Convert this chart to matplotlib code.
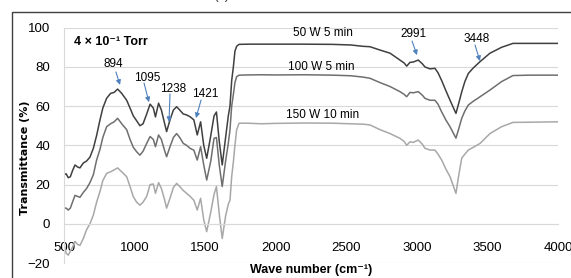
import matplotlib
matplotlib.use("Agg")
import matplotlib.pyplot as plt
from matplotlib.patches import Rectangle

plt.rcParams['font.family'] = ['Liberation Sans', 'DejaVu Sans']

# wave number (cm-1) and transmittance (%)
wave = [500, 515, 530, 545, 560, 578, 595, 613, 637, 660, 684, 708, 731, 755, 775,
        802, 830, 855, 880, 909, 944, 968, 991, 1015, 1038, 1060, 1086, 1110, 1133,
        1148, 1170, 1190, 1210, 1227, 1251, 1275, 1298, 1320, 1345, 1369, 1393, 1420,
        1444, 1468, 1490, 1511, 1540, 1563, 1580, 1600, 1621, 1645, 1664, 1676, 1688,
        1700, 1711, 1723, 1740, 1800, 1900, 2000, 2200, 2400, 2530, 2620, 2668, 2739,
        2810, 2880, 2910, 2928, 2951, 2975, 3010, 3040, 3057, 3093, 3128, 3150, 3176,
        3205, 3235, 3260, 3277, 3295, 3318, 3340, 3365, 3400, 3448, 3518, 3600, 3681,
        3800, 4000]

t_50w = [25, 25.5, 23.5, 24, 27, 30, 29, 28.5, 31, 32, 34, 38.5, 45, 53, 59,
         64, 66.5, 67, 68.7, 66.5, 63, 59, 55, 52.5, 50, 51, 56, 61, 59,
         54.5, 61.5, 58, 52, 47, 53, 58, 59.7, 58, 56, 55.5, 54.6, 53,
         45.3, 52, 40, 33.4, 45, 55, 57, 42, 30, 44, 55, 60, 73,
         80, 88, 90.5, 91.5, 91.6, 91.6, 91.6, 91.6, 91.5, 91.2, 90.5, 90.3, 88.6,
         87, 83.5, 82, 80.4, 82.3, 82.5, 83.5, 81.5, 80, 79, 79.3, 77, 73,
         68, 63, 59, 56.3, 61, 67.3, 72.5, 76.7, 79.5, 82.7, 87, 90, 92,
         92, 92]

t_100w = [8, 8, 7, 8, 11, 14.5, 14, 13.5, 16, 18, 21, 25, 32.5, 38, 44,
          49.5, 51, 52, 53.8, 51, 48, 43, 39, 36.7, 35, 37, 41, 44.5, 43,
          39.3, 45.3, 43, 38, 34.2, 39.3, 44, 46, 44, 41, 40, 38.5, 37.5,
          32.5, 39.3, 30, 22.3, 32, 43.6, 44, 30, 19, 32, 41, 48, 60,
          66, 72, 75, 75.8, 75.9, 76, 75.9, 76, 75.8, 75.5, 74.8, 74.2, 72,
          70, 67.4, 66, 64.8, 67, 66.8, 67.4, 65.5, 64, 63, 63, 61, 57,
          53, 49.5, 46, 43.7, 48, 53.8, 57.5, 60.6, 62.5, 64.8, 68.2, 72.5, 75.6,
          75.8, 75.8]

t_150w = [-10, -15, -16, -14, -12, -9, -10.5, -11, -7.5, -3, 0, 4.5, 11, 16.5, 22,
          25.7, 26.5, 27.5, 28.5, 26.5, 24, 19, 13.8, 11, 9.5, 11, 14, 20, 20.3,
          15.5, 21, 18, 13, 8, 13, 18.5, 20.6, 19, 17, 15.5, 14, 12,
          7, 13, 2, -4, 6, 15, 19, 5, -7.5, 4, 10, 12, 24,
          31.6, 40, 47.8, 51.3, 51.3, 51.0, 51.2, 51.4, 51.3, 51, 50.8, 50.4, 48,
          46, 43.6, 42, 40, 41.8, 41.5, 42.7, 40.5, 38.5, 37.6, 37.6, 35.5, 32.5,
          28, 24, 19, 15.5, 24, 33.5, 35.5, 37.6, 39, 41, 46, 49.5, 51.7,
          51.8, 52]

series_names = ['50 W 5 min', '100 W 5 min', '150 W 10 min']
series_pos = [(2335, 97.3), (2321, 80), (2335, 55.5)]

peak_labels = ['894', '1095', '1238', '1421', '2991', '3448']
peak_text = [(847, 81.5), (1088, 74.3), (1272, 68.7), (1499, 66.2), (2973, 96.8), (3426, 94.2)]
peak_tip = [(897, 70.8), (1102, 62), (1244, 51.9), (1435, 53.9), (3001, 86), (3447, 83)]
peak_tail = [(868, 77.4), (1067, 71.8), (1251, 66.2), (1471, 63.1), (2966, 93.2), (3412, 91.2)]


def main():
    fig = plt.figure(figsize=(5.71, 2.78), dpi=100)
    ax = fig.add_axes([64 / 571, 1 - 263 / 278, 494 / 571, 235.3 / 278])

    # outer chart frame (cut off on the right and bottom)
    fig.patches.append(Rectangle((12 / 571, -0.1), 1.2, 1 - 12 / 278 + 0.1,
                                 transform=fig.transFigure, fill=False,
                                 edgecolor='#404040', linewidth=1.0))
    fig.text(0.388, 1.004, '(c)', fontsize=10, ha='center', va='baseline', color='#404040')

    ax.plot(wave, t_50w, color='#404040', lw=1.1)
    ax.plot(wave, t_100w, color='#6f6f6f', lw=1.1)
    ax.plot(wave, t_150w, color='#a8a8a8', lw=1.1)

    ax.set_xlim(500, 4000)
    ax.set_ylim(-20, 100)
    ax.set_xticks(range(500, 4001, 500))
    ax.set_yticks(range(-20, 101, 20))
    ax.grid(axis='y', color='#d9d9d9', lw=0.8)
    ax.set_axisbelow(True)

    for s in ['top', 'right']:
        ax.spines[s].set_visible(False)
    ax.spines['left'].set_color('#d9d9d9')
    ax.spines['bottom'].set_color('#d9d9d9')
    ax.spines['bottom'].set_position(('data', 0))
    ax.tick_params(length=0, labelsize=9.5, colors='black')
    ax.tick_params(axis='x', pad=13)
    ax.tick_params(axis='y', pad=10)

    fig.text(311 / 571, 1 - 270 / 278, 'Wave number (cm⁻¹)', ha='center', va='center',
             fontsize=9, fontweight='bold')
    fig.text(25 / 571, 1 - 158 / 278, 'Transmittance (%)', rotation=90, ha='center',
             va='center', fontsize=8, fontweight='bold', family=['DejaVu Sans'])

    ax.text(571, 92.7, '4 × 10⁻¹ Torr', fontsize=9, fontweight='bold', va='center')

    for name, (x, y) in zip(series_names, series_pos):
        ax.text(x, y, name, fontsize=8.5, ha='center', va='center')

    for lab, txt, tail, tip in zip(peak_labels, peak_text, peak_tail, peak_tip):
        ax.text(txt[0], txt[1], lab, fontsize=8.5, ha='center', va='center')
        ax.annotate('', xy=tip, xytext=tail,
                    arrowprops=dict(arrowstyle='-|>', color='#4f81bd', lw=0.8,
                                    mutation_scale=7, shrinkA=0, shrinkB=0))

    fig.savefig('out.png', dpi=100)


if __name__ == '__main__':
    main()
